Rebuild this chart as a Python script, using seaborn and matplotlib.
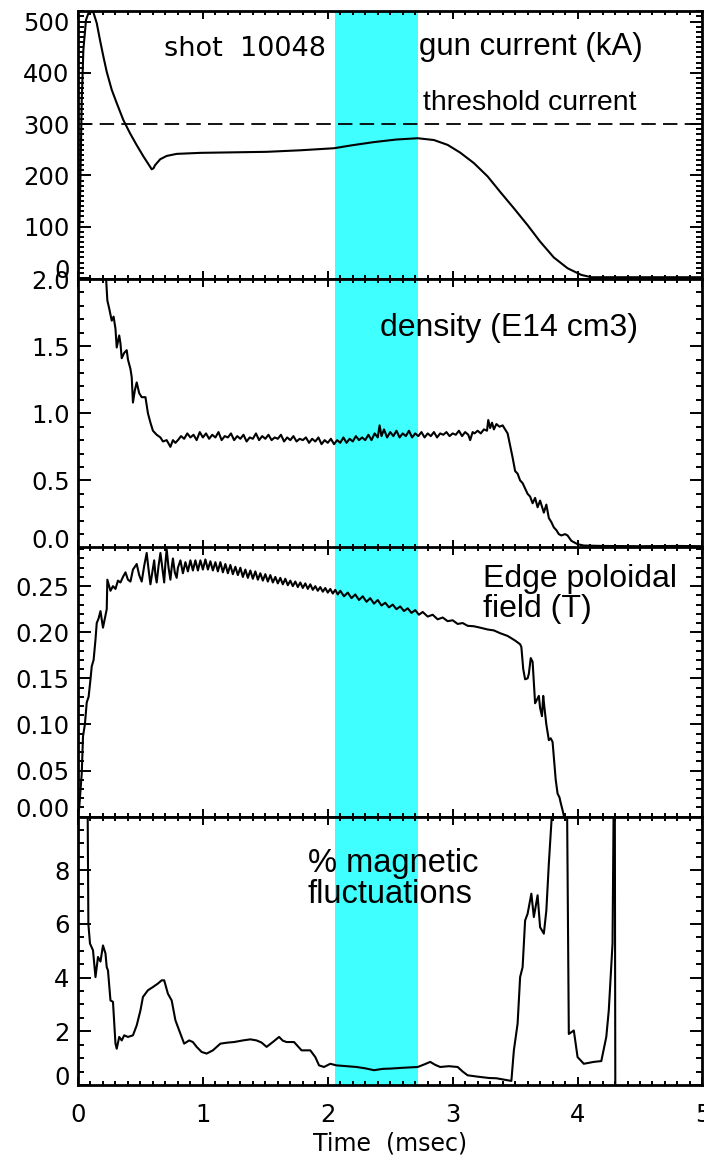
import matplotlib
matplotlib.use("Agg")
import matplotlib.pyplot as plt
import seaborn as sns
from matplotlib.ticker import MultipleLocator

# ---------------- data ----------------
# Panel 1: gun current (kA)
gun_t = [0.0, 0.005, 0.016, 0.03, 0.043, 0.064, 0.083, 0.11, 0.123, 0.15, 0.176, 0.203,
         0.23, 0.27, 0.31, 0.363, 0.417, 0.47, 0.524, 0.577, 0.59, 0.605, 0.617, 0.658,
         0.71, 0.79, 0.98, 1.51, 1.78, 2.05, 2.20, 2.37, 2.55, 2.72, 2.85, 2.96, 3.06,
         3.17, 3.28, 3.38, 3.49, 3.60, 3.70, 3.81, 3.92, 4.03, 4.11, 5.0]
gun_i = [0, 40, 150, 347, 445, 503, 516, 519, 518, 497, 464, 432,
         402, 367, 341, 308, 282, 259, 237, 217, 212, 214, 220, 231.5,
         238, 242, 244, 246, 249, 253, 259, 265, 270, 272.5, 269, 259.5, 244.5,
         224, 198, 168, 136, 103, 71, 40, 19, 6, 1.5, 1.5]
threshold_current = 300

# Panel 2: density (E14 cm3)
dens_t = [0.20, 0.225, 0.235, 0.25, 0.27, 0.285, 0.30, 0.31, 0.33, 0.34, 0.35, 0.37, 0.39,
          0.40, 0.42, 0.43, 0.44, 0.455, 0.47, 0.49, 0.51, 0.54, 0.56, 0.58, 0.60, 0.63,
          0.66, 0.68, 0.71, 0.74, 0.76, 0.78,
          0.800, 0.825, 0.850, 0.875, 0.900, 0.925, 0.950, 0.975, 1.000, 1.025, 1.050,
          1.075, 1.100, 1.125, 1.150, 1.175, 1.200, 1.225, 1.250, 1.275, 1.300, 1.325,
          1.350, 1.375, 1.400, 1.425, 1.450, 1.475, 1.500, 1.525, 1.550, 1.575, 1.600,
          1.625, 1.650, 1.675, 1.700, 1.725, 1.750, 1.775, 1.800, 1.825, 1.850, 1.875,
          1.900, 1.925, 1.950, 1.975, 2.000, 2.025, 2.050, 2.075, 2.100, 2.125, 2.150,
          2.175, 2.200, 2.225, 2.250, 2.275, 2.300, 2.325, 2.350, 2.375, 2.400, 2.415,
          2.430, 2.450, 2.475, 2.500, 2.525, 2.550, 2.575, 2.600, 2.625, 2.650, 2.675,
          2.700, 2.725, 2.750, 2.775, 2.800, 2.825, 2.850, 2.875, 2.900, 2.925, 2.950,
          2.975, 3.000, 3.025, 3.050, 3.075, 3.100, 3.125, 3.140, 3.160, 3.175, 3.200,
          3.225, 3.250, 3.275, 3.285, 3.300, 3.315, 3.330, 3.350, 3.375, 3.400, 3.420,
          3.440,
          3.46, 3.48, 3.50, 3.52, 3.54, 3.56, 3.58, 3.60, 3.62, 3.64, 3.66, 3.68, 3.70,
          3.72, 3.73, 3.75, 3.77, 3.79, 3.81, 3.83, 3.85, 3.87, 3.90, 3.92, 3.95, 3.97,
          4.00, 4.05, 4.20, 4.50, 4.80, 5.00]
dens_v = [2.25, 2.00, 1.84, 1.78, 1.69, 1.72, 1.63, 1.49, 1.58, 1.52, 1.41, 1.45, 1.47,
          1.40, 1.33, 1.27, 1.08, 1.17, 1.23, 1.15, 1.12, 1.12, 1.00, 0.93, 0.87, 0.84,
          0.82, 0.79, 0.80, 0.75, 0.80, 0.78,
          0.80, 0.83, 0.81, 0.85, 0.82, 0.84, 0.80, 0.86, 0.82, 0.85, 0.81, 0.84, 0.82,
          0.86, 0.80, 0.83, 0.82, 0.85, 0.80, 0.83, 0.81, 0.84, 0.79, 0.82, 0.81, 0.85,
          0.80, 0.83, 0.81, 0.84, 0.80, 0.82, 0.81, 0.84, 0.79, 0.82, 0.80, 0.83, 0.79,
          0.81, 0.80, 0.82, 0.78, 0.81, 0.79, 0.82, 0.77, 0.80, 0.78, 0.81, 0.77, 0.80,
          0.78, 0.82, 0.78, 0.81, 0.79, 0.83, 0.80, 0.82, 0.80, 0.84, 0.80, 0.85, 0.82,
          0.91, 0.83, 0.88, 0.82, 0.86, 0.83, 0.87, 0.82, 0.85, 0.83, 0.87, 0.82, 0.85,
          0.83, 0.86, 0.82, 0.85, 0.83, 0.86, 0.82, 0.85, 0.84, 0.86, 0.83, 0.85, 0.84,
          0.87, 0.83, 0.86, 0.84, 0.80, 0.86, 0.85, 0.87, 0.85, 0.88, 0.87, 0.95, 0.89,
          0.93, 0.88, 0.92, 0.90, 0.91, 0.88, 0.85,
          0.76, 0.67, 0.57, 0.55, 0.50, 0.48, 0.44, 0.40, 0.38, 0.33, 0.37, 0.30, 0.35,
          0.29, 0.26, 0.32, 0.22, 0.19, 0.15, 0.13, 0.10, 0.09, 0.10, 0.09, 0.05, 0.04,
          0.025, 0.015, 0.012, 0.010, 0.012, 0.010]

# Panel 3: edge poloidal field (T)
field_t = [0.00, 0.01, 0.03, 0.04, 0.055, 0.07, 0.085, 0.10, 0.11, 0.125, 0.14, 0.15, 0.165,
           0.18, 0.20, 0.215, 0.23, 0.235, 0.25, 0.26, 0.28, 0.30, 0.32, 0.34, 0.36, 0.38,
           0.40, 0.42, 0.44, 0.47, 0.49, 0.51, 0.53, 0.55, 0.565, 0.58, 0.595, 0.61, 0.62,
           0.63, 0.645, 0.66, 0.675, 0.69, 0.70, 0.71, 0.725, 0.74, 0.75, 0.76, 0.775, 0.79,
           0.80, 0.82, 0.84, 0.86, 0.88, 0.90, 0.92, 0.94, 0.96, 0.98, 1.00, 1.02, 1.04,
           1.06, 1.08, 1.10, 1.12, 1.14, 1.16, 1.18, 1.20, 1.22, 1.24, 1.26, 1.28, 1.30,
           1.32, 1.34, 1.36, 1.38, 1.40, 1.42, 1.44, 1.46, 1.48, 1.50, 1.52, 1.54, 1.56,
           1.58, 1.60, 1.62, 1.64, 1.66, 1.68, 1.70, 1.72, 1.74, 1.76, 1.78, 1.80, 1.82,
           1.84, 1.86, 1.88, 1.90, 1.92, 1.94, 1.96, 1.98, 2.00, 2.02, 2.04, 2.06, 2.08,
           2.10, 2.13, 2.16, 2.19, 2.22, 2.25, 2.28, 2.31, 2.34, 2.37, 2.40, 2.43, 2.46,
           2.49, 2.52, 2.55, 2.58, 2.61, 2.64, 2.67, 2.70, 2.73, 2.76, 2.80, 2.84, 2.88,
           2.92, 2.96, 3.00, 3.04, 3.08, 3.12, 3.17, 3.22, 3.28, 3.33, 3.38, 3.44, 3.50,
           3.54, 3.55, 3.565, 3.58, 3.60, 3.61, 3.625, 3.64, 3.655, 3.66, 3.675, 3.69,
           3.70, 3.715, 3.725, 3.735, 3.75, 3.77, 3.785, 3.80, 3.81, 3.825, 3.84, 3.855,
           3.865, 3.88, 3.90, 3.92]
field_b = [0.000, 0.010, 0.047, 0.087, 0.100, 0.124, 0.130, 0.149, 0.163, 0.170, 0.192,
           0.210, 0.215, 0.223, 0.205, 0.215, 0.225, 0.257, 0.250, 0.245, 0.250, 0.247,
           0.256, 0.254, 0.260, 0.265, 0.257, 0.255, 0.268, 0.274, 0.262, 0.255, 0.272,
           0.286, 0.268, 0.252, 0.265, 0.278, 0.262, 0.254, 0.272, 0.286, 0.270, 0.254,
           0.275, 0.290, 0.270, 0.257, 0.270, 0.280, 0.265, 0.259, 0.270, 0.278, 0.264,
           0.276, 0.266, 0.278, 0.267, 0.278, 0.267, 0.278, 0.268, 0.279, 0.268, 0.277,
           0.267, 0.276, 0.266, 0.276, 0.265, 0.274, 0.264, 0.273, 0.263, 0.271, 0.262,
           0.270, 0.260, 0.268, 0.259, 0.267, 0.258, 0.266, 0.257, 0.264, 0.256, 0.263,
           0.255, 0.262, 0.254, 0.260, 0.253, 0.259, 0.252, 0.258, 0.251, 0.256, 0.250,
           0.255, 0.249, 0.254, 0.248, 0.253, 0.247, 0.252, 0.246, 0.250, 0.245, 0.249,
           0.244, 0.248, 0.243, 0.247, 0.242, 0.246, 0.241, 0.245, 0.239, 0.243, 0.237,
           0.241, 0.235, 0.239, 0.233, 0.237, 0.231, 0.235, 0.229, 0.232, 0.227, 0.230,
           0.225, 0.228, 0.223, 0.226, 0.221, 0.224, 0.219, 0.222, 0.217, 0.219, 0.214,
           0.216, 0.212, 0.213, 0.209, 0.210, 0.207, 0.2065, 0.205, 0.203, 0.202, 0.199,
           0.196, 0.191, 0.187, 0.184, 0.160, 0.149, 0.150, 0.155, 0.172, 0.168, 0.135,
           0.123, 0.127, 0.131, 0.118, 0.109, 0.131, 0.118, 0.100, 0.083, 0.085, 0.081,
           0.065, 0.040, 0.025, 0.021, 0.015, 0.007, -0.005, -0.020]

# Panel 4: % magnetic fluctuations
fluct_t = [0.075, 0.083, 0.096, 0.12, 0.14, 0.16, 0.18, 0.20, 0.22, 0.23, 0.24, 0.26, 0.28,
           0.30, 0.31, 0.33, 0.35, 0.37, 0.40, 0.44, 0.47, 0.50, 0.52, 0.56, 0.60, 0.64,
           0.67, 0.69, 0.72, 0.75, 0.78, 0.82, 0.85, 0.89, 0.92, 0.95, 0.99, 1.03, 1.08,
           1.14, 1.20, 1.25, 1.32, 1.38, 1.43, 1.47, 1.51, 1.56, 1.61, 1.64, 1.67, 1.73,
           1.79, 1.86, 1.90, 1.93, 1.97, 2.02, 2.07, 2.15, 2.23, 2.30, 2.37, 2.44, 2.50,
           2.60, 2.72, 2.78, 2.82, 2.86, 2.90, 2.97, 3.04, 3.08, 3.12, 3.20, 3.29, 3.35,
           3.41, 3.47, 3.49, 3.52, 3.54, 3.56, 3.58, 3.60, 3.63, 3.65, 3.68, 3.70, 3.73,
           3.75, 3.77, 3.80, 3.84, 3.89, 3.915, 3.93, 3.97, 4.00, 4.05, 4.13, 4.19, 4.23,
           4.25, 4.28, 4.29, 4.297, 4.303]
fluct_v = [12.0, 6.0, 5.27, 5.02, 4.02, 4.77, 4.6, 5.2, 4.9, 4.39, 4.27, 3.15, 3.1,
           1.54, 1.35, 1.79, 1.66, 1.85, 1.79, 1.85, 2.22, 2.78, 3.28, 3.53, 3.65, 3.78,
           3.90, 3.90, 3.40, 3.15, 2.41, 1.91, 1.54, 1.66, 1.60, 1.42, 1.23, 1.17, 1.29,
           1.54, 1.58, 1.60, 1.66, 1.70, 1.66, 1.58, 1.42, 1.60, 1.79, 1.65, 1.60, 1.60,
           1.29, 1.29, 1.04, 0.73, 0.67, 0.79, 0.73, 0.70, 0.67, 0.62, 0.55, 0.60, 0.61,
           0.64, 0.67, 0.78, 0.86, 0.75, 0.67, 0.70, 0.67, 0.50, 0.36, 0.31, 0.26, 0.25,
           0.20, 0.15, 1.29, 2.29, 4.02, 4.39, 6.13, 6.38, 7.13, 6.26, 7.07, 5.88, 5.64,
           6.5, 8.25, 10.5, 11.5, 11.0, 11.0, 1.9, 2.03, 1.04, 0.79, 0.86, 0.89, 1.79,
           2.78, 5.27, 11.0, 14.0, -2.0]

highlight = (2.06, 2.72)

# ---------------- style ----------------
sns.set_style("ticks")
plt.rcParams["font.family"] = ["DejaVu Sans"]
plt.rcParams.update({"text.color": "black", "axes.labelcolor": "black",
                     "xtick.color": "black", "ytick.color": "black",
                     "axes.edgecolor": "black"})
TICKFS = 17.5
ANNFONT = ["Liberation Sans", "DejaVu Sans"]
CYAN = "#40ffff"

fig = plt.figure(figsize=(7.04, 11.65), dpi=100)
left, width = 0.1108, 0.887
boxes = [(0.7605, 0.2298), (0.5300, 0.2305), (0.2990, 0.2311), (0.0687, 0.2303)]
axes = []
for i, (b, h) in enumerate(boxes):
    ax = fig.add_axes([left, b, width, h], sharex=axes[0] if axes else None)
    axes.append(ax)

ax1, ax2, ax3, ax4 = axes

for ax in axes:
    ax.axvspan(highlight[0], highlight[1], color=CYAN, lw=0, zorder=0)

lkw = dict(color="black", linewidth=1.5, estimator=None, sort=False)
sns.lineplot(x=gun_t, y=gun_i, ax=ax1, **lkw)
ax1.axhline(threshold_current, color="black", lw=1.3, linestyle=(0, (8, 4)))
sns.lineplot(x=dens_t, y=dens_v, ax=ax2, **lkw)
sns.lineplot(x=field_t, y=field_b, ax=ax3, **lkw)
sns.lineplot(x=fluct_t, y=fluct_v, ax=ax4, **lkw)

ax1.set_ylim(-2, 520)
ax2.set_ylim(0, 2.0)
ax3.set_ylim(0, 0.292)
ax4.set_ylim(0, 10)
ax4.set_xlim(0, 5)

ax1.set_yticks([0, 100, 200, 300, 400, 500], ["0", "100", "200", "300", "400", "500"])
ax1.yaxis.set_minor_locator(MultipleLocator(10))
ax2.set_yticks([0, 0.5, 1.0, 1.5, 2.0], ["0.0", "0.5", "1.0", "1.5", "2.0"])
ax2.yaxis.set_minor_locator(MultipleLocator(0.1))
ax3.set_yticks([0, 0.05, 0.10, 0.15, 0.20, 0.25],
               ["0.00", "0.05", "0.10", "0.15", "0.20", "0.25"])
ax3.yaxis.set_minor_locator(MultipleLocator(0.01))
ax4.set_yticks([0, 2, 4, 6, 8], ["0", "2", "4", "6", "8"])
ax4.yaxis.set_minor_locator(MultipleLocator(0.5))
ax4.set_xticks([0, 1, 2, 3, 4, 5], ["0", "1", "2", "3", "4", "5"])
ax4.xaxis.set_minor_locator(MultipleLocator(0.1))

for ax in axes:
    for s in ax.spines.values():
        s.set_linewidth(2.0)
        s.set_zorder(5)
    ax.tick_params(axis="both", which="both", direction="in", top=True, right=True,
                   width=1.4, color="black", labelcolor="black")
    ax.tick_params(axis="y", which="major", length=9, labelsize=TICKFS, pad=6)
    ax.tick_params(axis="y", which="minor", length=4.5)
    ax.tick_params(axis="x", which="major", length=6, labelsize=TICKFS, pad=13)
    ax.tick_params(axis="x", which="minor", length=3)
    ax.set_ylabel("")
    ax.set_xlabel("")
    if ax is not ax4:
        ax.tick_params(axis="x", labelbottom=False)
    ax.get_yticklabels()[0].set_va("baseline")

ax4.set_xlabel("Time  (msec)", fontsize=17, labelpad=3, color="black")

# annotations
ax1.text(1.335, 447, "shot  10048", fontsize=19.5, ha="center", va="center", color="black")
ax1.text(2.73, 450, "gun current (kA)", fontsize=22.5, family=ANNFONT, ha="left",
         va="center", color="black")
ax1.text(2.76, 341, "threshold current", fontsize=20.5, family=ANNFONT, ha="left",
         va="center", color="black")
ax2.text(2.42, 1.634, "density (E14 cm3)", fontsize=23, family=ANNFONT, ha="left",
         va="center", color="black")
ax3.text(3.24, 0.242, "Edge poloidal\nfield (T)", fontsize=23, family=ANNFONT,
         ha="left", va="center", linespacing=1.0, color="black")
ax4.text(1.84, 7.66, "% magnetic\nfluctuations", fontsize=23.5, family=ANNFONT,
         ha="left", va="center", linespacing=1.0, color="black")

fig.savefig("out.png", dpi=100)
